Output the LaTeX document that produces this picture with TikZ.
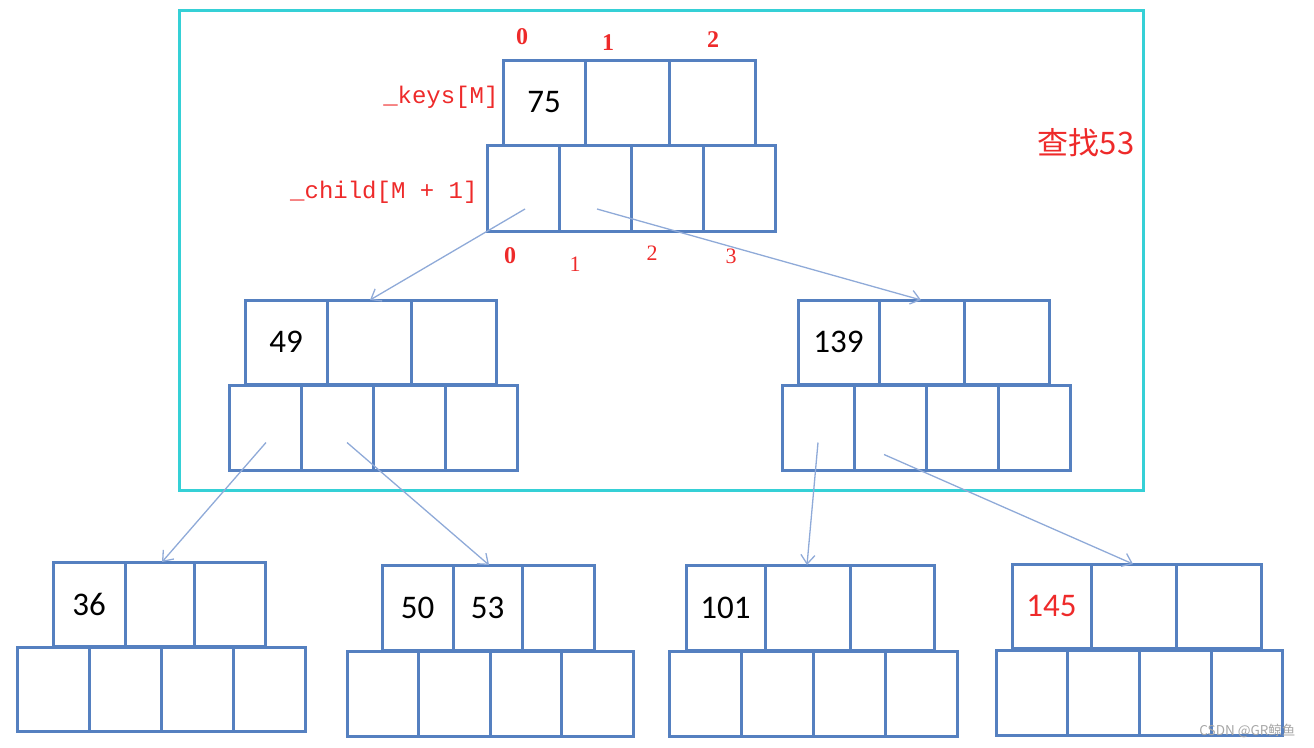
\documentclass[tikz,border=0pt]{standalone}
\usepackage{fontspec}
\setmainfont{Liberation Serif}
\newfontfamily\numf{Carlito}
\newfontfamily\monof{Liberation Mono}
\newfontfamily\cjk{Noto Sans CJK SC}
\usetikzlibrary{arrows.meta}
\definecolor{boxblue}{HTML}{5580C0}
\definecolor{arrblue}{HTML}{8FAAD8}
\definecolor{cyanframe}{HTML}{35D0D6}
\definecolor{lblred}{HTML}{EE2A2A}
\tikzset{
  cellbox/.style={draw=boxblue, line width=3pt, inner sep=0pt, outer sep=0pt, font=\numf\fontsize{33}{35}\selectfont},
  link/.style={draw=arrblue, line width=1.3pt, -{Straight Barb[length=9pt,width=14pt]}},
  idx/.style={text=lblred, font=\bfseries\fontsize{24}{26}\selectfont},
  idxb/.style={text=lblred, font=\fontsize{22}{24}\selectfont},
  mlabel/.style={text=lblred, font=\monof\fontsize{24}{26}\selectfont},
}
\newcommand\cellbox[6]{\node[cellbox, minimum width={(#3)-(#2)}, minimum height={(#5)-(#4)}] (#1) at ({((#2)+(#3))/2},{((#4)+(#5))/2}) {#6};}
\begin{document}
\begin{tikzpicture}[x=1pt,y=-1pt]
\useasboundingbox (0,0) rectangle (1314,747);
% frame
\draw[cyanframe, line width=3pt] (179,10) rectangle (1143,490);
% root
\cellbox{rk1}{503}{585}{60}{145}{75}
\cellbox{rk2}{585}{669}{60}{145}{}
\cellbox{rk3}{669}{755}{60}{145}{}
\cellbox{rc1}{487}{559}{145}{231}{}
\cellbox{rc2}{559}{631}{145}{231}{}
\cellbox{rc3}{631}{703}{145}{231}{}
\cellbox{rc4}{703}{775}{145}{231}{}
% left mid
\cellbox{lk1}{245}{327}{300}{384}{49}
\cellbox{lk2}{327}{411}{300}{384}{}
\cellbox{lk3}{411}{496}{300}{384}{}
\cellbox{lc1}{229}{301}{385}{470}{}
\cellbox{lc2}{301}{373}{385}{470}{}
\cellbox{lc3}{373}{445}{385}{470}{}
\cellbox{lc4}{445}{517}{385}{470}{}
% right mid
\cellbox{mk1}{798}{879}{300}{384}{139}
\cellbox{mk2}{879}{964}{300}{384}{}
\cellbox{mk3}{964}{1049}{300}{384}{}
\cellbox{mc1}{782}{854}{385}{470}{}
\cellbox{mc2}{854}{926}{385}{470}{}
\cellbox{mc3}{926}{998}{385}{470}{}
\cellbox{mc4}{998}{1070}{385}{470}{}
% leaf A
\cellbox{ak1}{53}{125}{562}{646}{36}
\cellbox{ak2}{125}{194}{562}{646}{}
\cellbox{ak3}{194}{265}{562}{646}{}
\cellbox{ac1}{17}{89}{647}{731}{}
\cellbox{ac2}{89}{161}{647}{731}{}
\cellbox{ac3}{161}{233}{647}{731}{}
\cellbox{ac4}{233}{305}{647}{731}{}
% leaf B
\cellbox{bk1}{382}{453}{565}{650}{50}
\cellbox{bk2}{453}{522}{565}{650}{53}
\cellbox{bk3}{522}{594}{565}{650}{}
\cellbox{bc1}{347}{418}{651}{736}{}
\cellbox{bc2}{418}{490}{651}{736}{}
\cellbox{bc3}{490}{561}{651}{736}{}
\cellbox{bc4}{561}{633}{651}{736}{}
% leaf C
\cellbox{ck1}{686}{765}{565}{650}{101}
\cellbox{ck2}{765}{850}{565}{650}{}
\cellbox{ck3}{850}{934}{565}{650}{}
\cellbox{cc1}{669}{741}{651}{736}{}
\cellbox{cc2}{741}{813}{651}{736}{}
\cellbox{cc3}{813}{885}{651}{736}{}
\cellbox{cc4}{885}{957}{651}{736}{}
% leaf D
\cellbox{dk1}{1012}{1091}{564}{648}{\textcolor{lblred}{145}}
\cellbox{dk2}{1091}{1176}{564}{648}{}
\cellbox{dk3}{1176}{1261}{564}{648}{}
\cellbox{dc1}{996}{1067}{650}{735}{}
\cellbox{dc2}{1067}{1139}{650}{735}{}
\cellbox{dc3}{1139}{1211}{650}{735}{}
\cellbox{dc4}{1211}{1282}{650}{735}{}
% labels
\node[idx] (i0) at (522,37) {0};
\node[idx] (i1) at (608,43) {1};
\node[idx] (i2) at (713,40) {2};
\node[mlabel, anchor=east] (keyslbl) at (502,97) {\_keys[M]};
\node[mlabel, anchor=east] (childlbl) at (481,192) {\_child[M + 1]};
\node[idx] (c0) at (510,256) {0};
\node[idxb] (c1) at (575,264) {1};
\node[idxb] (c2) at (652,253) {2};
\node[idxb] (c3) at (731,256) {3};
\node[text=lblred, font=\cjk\fontsize{31}{33}\selectfont] (find) at (1086,143) {查找53};
\node[text=gray!70, font=\cjk\fontsize{13.5}{15}\selectfont, anchor=east] (wm) at (1299,731) {CSDN @GR鲸鱼};
% links
\draw[link] ([shift={(2,21)}]rc1.center) -- ([xshift=43pt]lk2.north west);
\draw[link] ([shift={(2,21)}]rc2.center) -- ([xshift=42pt]mk2.north west);
\draw[link] ([shift={(1,15)}]lc1.center) -- ([xshift=37pt]ak2.north west);
\draw[link] ([shift={(10,15)}]lc2.center) -- ([xshift=36pt]bk2.north west);
\draw[link] ([shift={(0,15)}]mc1.center) -- ([xshift=42pt]ck2.north west);
\draw[link] ([shift={(-6,27)}]mc2.center) -- ([xshift=42pt]dk2.north west);
\end{tikzpicture}
\end{document}
